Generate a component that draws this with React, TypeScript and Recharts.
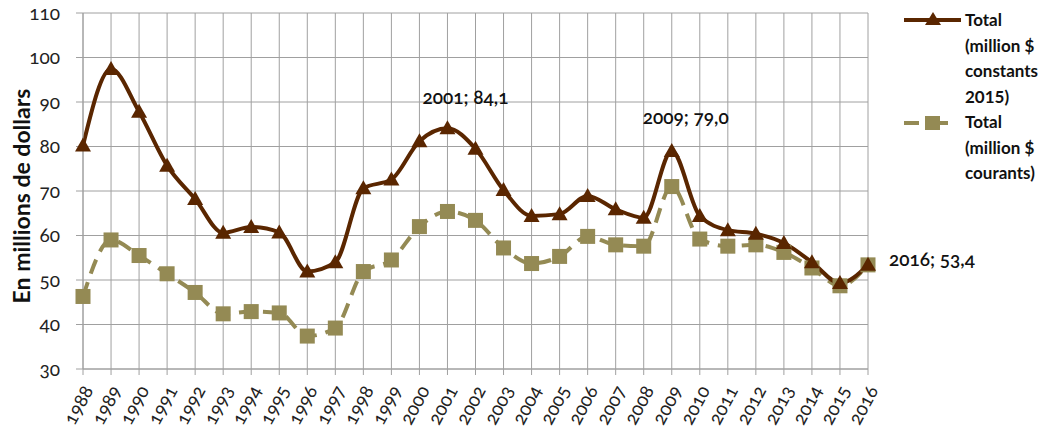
import { CartesianGrid, LabelList, Legend, Line, LineChart, XAxis, YAxis } from "recharts";

const years = [
  "1988", "1989", "1990", "1991", "1992", "1993", "1994", "1995", "1996", "1997",
  "1998", "1999", "2000", "2001", "2002", "2003", "2004", "2005", "2006", "2007",
  "2008", "2009", "2010", "2011", "2012", "2013", "2014", "2015", "2016",
];

const constants2015 = [
  80.2, 97.4, 87.8, 75.7, 68.2, 60.6, 61.9, 60.7, 51.9, 54.0,
  70.6, 72.6, 81.2, 84.1, 79.5, 70.2, 64.4, 64.8, 68.9, 65.9,
  64.0, 79.0, 64.4, 61.2, 60.4, 58.3, 54.0, 49.3, 53.4,
];

const courants = [
  46.3, 59.0, 55.5, 51.4, 47.2, 42.4, 42.9, 42.6, 37.4, 39.2,
  51.9, 54.5, 62.0, 65.4, 63.4, 57.2, 53.7, 55.3, 59.8, 57.9,
  57.6, 71.0, 59.2, 57.6, 57.9, 56.2, 52.7, 48.7, 53.4,
];

const yTicks = [30, 40, 50, 60, 70, 80, 90, 100, 110];

const labelledYears = ["2001", "2009", "2016"];

const data = years.map((year, i) => ({
  year,
  constants: constants2015[i],
  courants: courants[i],
}));

const BROWN = "#5a2600";
const OLIVE = "#948a54";
const GRID = "#a0a0a0";
const FONT = "Lato, 'Open Sans', sans-serif";
const OLDSTYLE = { fontFeatureSettings: '"onum"' };

const Triangle = (props: any) => {
  const { cx, cy } = props;
  if (cx == null || cy == null) return null;
  return (
    <polygon
      points={`${cx},${cy - 8} ${cx + 8},${cy + 6} ${cx - 8},${cy + 6}`}
      fill={BROWN}
    />
  );
};

const Square = (props: any) => {
  const { cx, cy } = props;
  if (cx == null || cy == null) return null;
  return <rect x={cx - 7.5} y={cy - 7.5} width={15} height={15} fill={OLIVE} />;
};

const XTick = (props: any) => {
  const { x, y, payload } = props;
  return (
    <text
      x={x + 5}
      y={y}
      dy="0.35em"
      transform={`rotate(-62, ${x + 5}, ${y})`}
      textAnchor="end"
      fontSize={19}
      fontFamily={FONT}
      fill="#222"
      style={OLDSTYLE}
    >
      {payload.value}
    </text>
  );
};

const YTick = (props: any) => {
  const { x, y, payload } = props;
  return (
    <text
      x={x}
      y={y}
      dy="0.35em"
      textAnchor="end"
      fontSize={19}
      fontFamily={FONT}
      fill="#222"
      style={OLDSTYLE}
    >
      {payload.value}
    </text>
  );
};

const PointLabel = (props: any) => {
  const { x, y, index } = props;
  const year = years[index];
  if (!labelledYears.includes(year)) return null;
  const text = `${year}; ${constants2015[index].toFixed(1).replace(".", ",")}`;
  let dx = 0;
  let dy = -24;
  let anchor: "middle" | "start" = "middle";
  if (year === "2001") dx = 18;
  if (year === "2009") {
    dx = 14;
    dy = -27;
  }
  if (year === "2016") {
    dx = 21;
    dy = 1;
    anchor = "start";
  }
  return (
    <text
      x={x + dx}
      y={y + dy}
      textAnchor={anchor}
      fontSize={19}
      fontFamily={FONT}
      fontWeight={600}
      fill="#111"
      style={OLDSTYLE}
    >
      {text}
    </text>
  );
};

const YLabel = (props: any) => {
  const { viewBox } = props;
  const cx = viewBox.x + 21;
  const cy = viewBox.y + viewBox.height / 2 + 5;
  return (
    <text
      x={cx}
      y={cy}
      transform={`rotate(-90, ${cx}, ${cy})`}
      textAnchor="middle"
      dominantBaseline="central"
      fontSize={23}
      fontWeight={700}
      fontFamily={FONT}
      fill="#111"
    >
      En millions de dollars
    </text>
  );
};

const LegendBox = () => {
  const textStyle = {
    fontFamily: FONT,
    fontSize: 17,
    fontWeight: 700,
    lineHeight: "25.5px",
    color: "#111",
  };
  return (
    <div style={{ position: "relative", width: 149 }}>
      <div style={{ display: "flex", alignItems: "flex-start" }}>
        <svg width={62} height={26} style={{ flex: "none" }}>
          <line x1={1} y1={13} x2={58} y2={13} stroke={BROWN} strokeWidth={4} />
          <polygon points="30,5 38,18 22,18" fill={BROWN} />
        </svg>
        <div style={textStyle}>
          Total
          <br />
          (million $
          <br />
          constants
          <br />
          2015)
        </div>
      </div>
      <div style={{ display: "flex", alignItems: "flex-start" }}>
        <svg width={62} height={26} style={{ flex: "none" }}>
          <line x1={1} y1={14} x2={16} y2={14} stroke={OLIVE} strokeWidth={4} />
          <line x1={36} y1={14} x2={45} y2={14} stroke={OLIVE} strokeWidth={4} />
          <rect x={22} y={7} width={15} height={14} fill={OLIVE} />
        </svg>
        <div style={textStyle}>
          Total
          <br />
          (million $
          <br />
          courants)
        </div>
      </div>
    </div>
  );
};

export default function App() {
  return (
    <div style={{ position: "absolute", left: 0, top: 0, background: "#fff" }}>
      <LineChart
        width={1049}
        height={437}
        data={data}
        margin={{ top: 13, right: 32, left: 0, bottom: 0 }}
      >
        <CartesianGrid stroke={GRID} strokeWidth={1} />
        <XAxis
          dataKey="year"
          scale="point"
          padding={{ left: 0, right: 0 }}
          interval={0}
          height={68}
          tickSize={6}
          tickMargin={12}
          tick={<XTick />}
          axisLine={{ stroke: GRID }}
          tickLine={{ stroke: GRID }}
        />
        <YAxis
          domain={[30, 110]}
          ticks={yTicks}
          width={83}
          tickSize={7}
          tickMargin={16}
          interval={0}
          tick={<YTick />}
          axisLine={{ stroke: GRID }}
          tickLine={{ stroke: GRID }}
          label={<YLabel />}
        />
        <Legend
          layout="vertical"
          verticalAlign="top"
          align="right"
          content={<LegendBox />}
          wrapperStyle={{ left: 903, top: 7, width: 149 }}
        />
        <Line
          type="monotone"
          dataKey="courants"
          stroke={OLIVE}
          strokeWidth={4}
          strokeDasharray="15 9"
          dot={<Square />}
          activeDot={false}
          isAnimationActive={false}
        />
        <Line
          type="monotone"
          dataKey="constants"
          stroke={BROWN}
          strokeWidth={4}
          dot={<Triangle />}
          activeDot={false}
          isAnimationActive={false}
        >
          <LabelList dataKey="constants" content={<PointLabel />} />
        </Line>
      </LineChart>
    </div>
  );
}
